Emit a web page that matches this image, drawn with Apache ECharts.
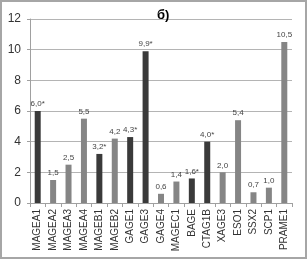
<!DOCTYPE html>
<html><head><meta charset="utf-8">
<script src="https://cdn.jsdelivr.net/npm/echarts@6/dist/echarts.min.js"></script>
<style>html,body{margin:0;padding:0;background:#fff;}
#frame{position:absolute;left:0;top:0;width:303px;height:255px;border:2px solid #a6a6a6;background:#fff;}
#c{position:absolute;left:0;top:0;width:307px;height:259px;}</style>
</head><body><div id="frame"></div><div id="c"></div>
<script>
const categories = ['MAGEA1','MAGEA2','MAGEA3','MAGEA4','MAGEB1','MAGEB2','GAGE1','GAGE3','GAGE4','MAGEC1','BAGE','CTAG1B','XAGE3','ESO1','SSX2','SCP1','PRAME1'];
const values = [6.0,1.5,2.5,5.5,3.2,4.2,4.3,9.9,0.6,1.4,1.6,4.0,2.0,5.4,0.7,1.0,10.5];
const significant = [true,false,false,false,true,false,true,true,false,false,true,true,false,false,false,false,false];
const yTicks = [0,2,4,6,8,10,12];
const titleText = 'б)';

const chart = echarts.init(document.getElementById('c'), null, {renderer:'canvas'});
chart.setOption({
  animation:false,
  backgroundColor:'transparent',
  title:{text:titleText,left:152,top:4,textStyle:{fontSize:13,fontWeight:'bold',color:'#000',fontFamily:'Liberation Sans'}},
  grid:{left:30,right:15,top:19,bottom:56},
  xAxis:{type:'category',data:categories,
    axisLine:{lineStyle:{color:'#a0a0a0'}},
    axisTick:{show:true,length:4,lineStyle:{color:'#a0a0a0'}},
    axisLabel:{rotate:90,fontSize:10,color:'#333',fontFamily:'Liberation Sans',margin:6,interval:0}},
  yAxis:{type:'value',min:yTicks[0],max:yTicks[yTicks.length-1],interval:2,
    axisLine:{show:true,lineStyle:{color:'#a0a0a0'}},
    axisTick:{show:true,length:3,lineStyle:{color:'#a0a0a0'}},
    splitLine:{lineStyle:{color:'#b4b4b4'}},
    axisLabel:{fontSize:12,color:'#333',fontFamily:'Liberation Sans',margin:9}},
  series:[{type:'bar',barWidth:6,
    data:values.map((v,i)=>({value:v,itemStyle:{color:significant[i]?'#3a3a3a':'#858585'},
      label:{formatter:v.toFixed(1).replace('.',',')+(significant[i]?'*':'')}})),
    label:{show:true,position:'top',distance:3,fontSize:8,color:'#444',fontFamily:'Liberation Sans'}}]
});
</script></body></html>
